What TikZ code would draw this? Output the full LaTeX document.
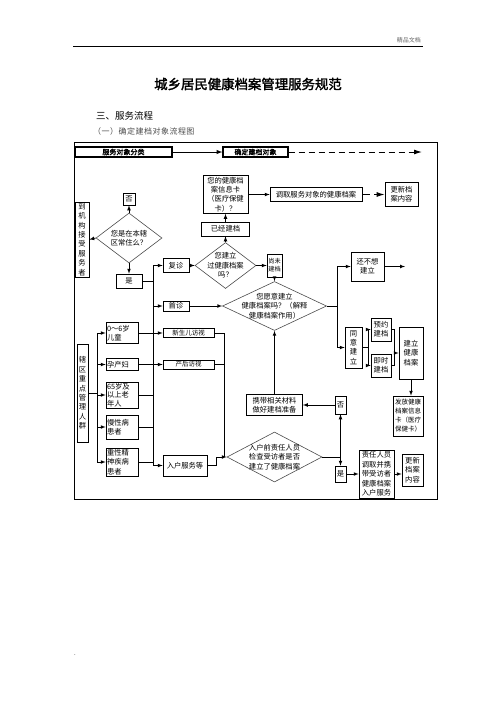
\documentclass[tikz,border=0pt]{standalone}
\usepackage{fontspec}
\usepackage{tikz}
\usetikzlibrary{calc,shapes,arrows,arrows.meta}
\newfontfamily\cjk{Noto Sans CJK SC}
\newfontfamily\cjkb[FakeBold=2]{Noto Sans CJK SC}
\newfontfamily\cjks[LetterSpace=6]{Noto Sans CJK SC}
\tikzset{
  box/.style={draw, line width=0.7pt, inner sep=1pt, align=center, font=\cjk\fontsize{7.3}{9.4}\selectfont},
  lbox/.style={box, align=left, text width=#1},
  dia/.style={draw=black!70, line width=0.6pt, diamond, inner sep=0pt},
  dtext/.style={align=center, inner sep=0pt, font=\cjk\fontsize{7.3}{9.4}\selectfont},
  head/.style={draw, line width=1.3pt, inner sep=0pt, font=\cjkb\fontsize{7}{8}\selectfont},
  line/.style={line width=0.7pt},
  arr/.style={line width=0.7pt, -latex},
  bigarr/.style={line width=1pt, dash pattern=on 6pt off 4pt, -{Latex[length=8pt,width=5pt]}}
}
\begin{document}
\begin{tikzpicture}[x=1pt,y=-1pt]
\useasboundingbox (0,0) rectangle (496,702);
\node[anchor=east, text=black!60, font=\cjk\fontsize{6}{7}\selectfont, inner sep=0pt] (brand) at (421,40) {精品文档};
\draw[line width=0.8pt] (73,46) -- (423,46);
\node[font=\cjkb\fontsize{13.4}{15}\selectfont, inner sep=0pt] (title) at (248,84) {城乡居民健康档案管理服务规范};
\node[anchor=west, font=\cjk\fontsize{9.5}{11}\selectfont, inner sep=0pt] (sec) at (96,116) {三、服务流程};
\node[anchor=west, text=black!70, font=\cjks\fontsize{8}{9}\selectfont, inner sep=0pt] (sub) at (93,131) {（一）确定建档对象流程图};
\node[font=\cjk\fontsize{6}{7}\selectfont, inner sep=0pt] (dot) at (75,655) {.};
\draw[line width=0.8pt] (74,142) rectangle (437,499);

\node[head, minimum width=97, minimum height=10] (cls) at (123.5,152) {服务对象分类};
\node[head, minimum width=65, minimum height=10] (obj) at (255.5,152) {确定建档对象};
\coordinate (objend) at (422,152);
\draw[arr, line width=1pt] (cls) -- (obj);
\draw[bigarr] (obj) -- (objend);

\node[box, minimum width=14, minimum height=75] (jg) at (82,239.5) {到\\机\\构\\接\\受\\服\\务\\者};
\node[dia, minimum width=66, minimum height=50] (q1) at (129,238) {};
\node[dtext] (q1t) at (q1) {您是在本辖\\区常住么？};
\node[box, minimum width=12, minimum height=12] (fou1) at (129,199) {否};
\node[box, minimum width=26, minimum height=14] (shi1) at (129,281) {是};
\draw[arr] (q1.west) -- (jg.east);
\draw[arr] (q1.north) -- (fou1.south);
\draw[arr] (q1.south) -- (shi1.north);

\node[box, minimum width=26, minimum height=14] (fz) at (176,265.5) {复诊};
\node[box, minimum width=26, minimum height=10] (sz) at (176,306) {首诊};
\node[dia, minimum width=61, minimum height=46] (q2) at (225.5,265.5) {};
\node[dtext] (q2t) at (q2) {您建立\\过健康档案\\吗？};
\node[box, minimum width=48, minimum height=14] (yj) at (225.5,229) {已经建档};
\node[box, minimum width=45, minimum height=38] (card) at (225.5,194.5) {您的健康档\\案信息卡\\（医疗保健\\卡）？};
\node[box, minimum width=92, minimum height=14] (dq) at (316,194.5) {调取服务对象的健康档案};
\node[box, minimum width=33, minimum height=24] (gx1) at (401.5,194.5) {更新档\\案内容};
\draw[arr] (fz.east) -- (q2.west);
\draw[arr] (q2.north) -- (yj.south);
\draw[arr] (yj.north) -- (card.south);
\draw[arr] (card.east) -- (dq.west);
\draw[bigarr, dash pattern=on 8pt off 4pt] (dq.east) -- (gx1.west);

\node[box, minimum width=15, minimum height=23, font=\cjk\fontsize{6.2}{8}\selectfont] (wj) at (274.5,265.5) {尚未\\建档};
\node[dia, minimum width=104, minimum height=49] (q3) at (274.5,306) {};
\node[dtext] (q3t) at (q3) {您愿意建立\\健康档案吗？（解释\\健康档案作用）};
\draw[arr] (q2.east) -- (wj.west);
\draw[arr] (wj.south) -- (q3.north);
\draw[arr] (sz.east) -- (q3.west);

\node[box, minimum width=33, minimum height=29] (bx) at (367.5,266.5) {还不想\\建立};
\coordinate (bxend) at (405,266.5);
\node[box, minimum width=17, minimum height=41] (ty) at (353.5,347.5) {同\\意\\建\\立};
\coordinate (b3) at (337,266.5);
\coordinate (b4) at (337,347.5);
\draw[line] (q3.east) -- (q3.east -| b3);
\draw[line] (b3) -- (b4);
\draw[arr] (b3) -- (bx.west);
\draw[arr] (b4) -- (ty.west);
\draw[arr] (bx.east) -- (bxend);

\node[box, minimum width=20, minimum height=23] (yy) at (381,329.5) {预约\\建档};
\node[box, minimum width=20, minimum height=23] (js) at (381,365.5) {即时\\建档};
\node[box, minimum width=24, minimum height=52] (jl) at (411,353) {建立\\健康\\档案};
\node[box, minimum width=30, minimum height=40, font=\cjk\fontsize{6.5}{9}\selectfont] (ff) at (408,416) {发放健康\\档案信息\\卡（医疗\\保健卡）};
\coordinate (b5) at (368,329.5);
\coordinate (b6) at (368,365.5);
\draw[line] (ty.east) -- (ty.east -| b5);
\draw[line] (b5) -- (b6);
\draw[arr] (b5) -- (yy.west);
\draw[arr] (b6) -- (js.west);
\coordinate (b7) at (394,329.5);
\coordinate (b8) at (394,365.5);
\draw[line] (yy.east) -- (b7) -- (b8) -- (js.east);
\draw[arr] (b7 |- jl.west) -- (jl.west);
\draw[arr] (jl.south) -- (jl.south |- ff.north);

\node[box, minimum width=56, minimum height=21] (xd) at (274.5,405) {携带相关材料\\做好建档准备};
\node[box, minimum width=11, minimum height=18] (fou2) at (340.5,405) {否};
\node[box, minimum width=11, minimum height=16] (shi2) at (340.5,474) {是};
\node[dia, minimum width=95, minimum height=50] (q4) at (274.5,457) {};
\node[dtext] (q4t) at (q4) {入户前责任人员\\检查受访者是否\\建立了健康档案};
\node[box, minimum width=35, minimum height=48] (zr) at (376.5,474) {责任人员\\调取并携\\带受访者\\健康档案\\入户服务};
\node[box, minimum width=21, minimum height=32] (gx2) at (412.5,470) {更新\\档案\\内容};
\draw[arr] (q4.east) -| (fou2.south);
\draw[arr] (q4.east) -| (shi2.north);
\draw[arr] (fou2.west) -- (xd.east);
\draw[arr] (xd.north) -- (q3.south);
\draw[arr] (shi2.east) -- (zr.west);
\draw[arr] (zr.east) -- (zr.east -| gx2.west);

\node[box, minimum width=11, minimum height=98] (xq) at (82.5,393) {辖\\区\\重\\点\\管\\理\\人\\群};
\node[lbox=30pt, minimum height=21] (et) at (122,333) {0～6岁\\儿童};
\node[lbox=30pt, minimum height=12] (yc) at (122,364.5) {孕产妇};
\node[lbox=30pt, minimum height=26, font=\cjk\fontsize{7.3}{8.6}\selectfont] (ln) at (122,395) {65岁及\\以上老\\年人};
\node[lbox=30pt, minimum height=24] (mx) at (122,427) {慢性病\\患者};
\node[lbox=30pt, minimum height=28] (zx) at (122,462) {重性精\\神疾病\\患者};
\coordinate (b9) at (97,333);
\coordinate (b10) at (97,462);
\draw[line] (xq.east) -- (xq.east -| b9);
\draw[line] (b9) -- (b10);
\foreach \n in {et,yc,ln,mx,zx}
\draw[arr] (\n.west -| b9) -- (\n.west);

\node[box, minimum width=51, minimum height=9, inner sep=0pt, font=\cjk\fontsize{6.5}{7}\selectfont] (xse) at (188.5,333) {新生儿访视};
\node[box, minimum width=51, minimum height=9, inner sep=0pt, font=\cjk\fontsize{6.5}{7}\selectfont] (ch) at (188.5,364.5) {产后访视};
\node[box, minimum width=44, minimum height=21] (rh) at (185,465.5) {入户服务等};
\coordinate (b1) at (153,265.5);
\coordinate (b2) at (153,465.5);
\draw[line] (shi1.east) -- (shi1.east -| b1);
\draw[line] (b1) -- (b2);
\foreach \n in {fz,sz,rh}
\draw[arr] (\n.west -| b1) -- (\n.west);
\draw[arr] (et.east) -- (xse.west);
\draw[arr] (yc.east) -- (ch.west);
\foreach \n in {ln,mx,zx}
\draw[line] (\n.east) -- (\n.east -| b1);
\coordinate (b11) at (224,333);
\draw[line] (xse.east) -- (xse.east -| b11) -- (b11 |- q4.west);
\draw[line] (ch.east) -- (ch.east -| b11);
\draw[arr] (rh.east) -- ++(9,0) |- (q4.west);
\end{tikzpicture}
\end{document}
